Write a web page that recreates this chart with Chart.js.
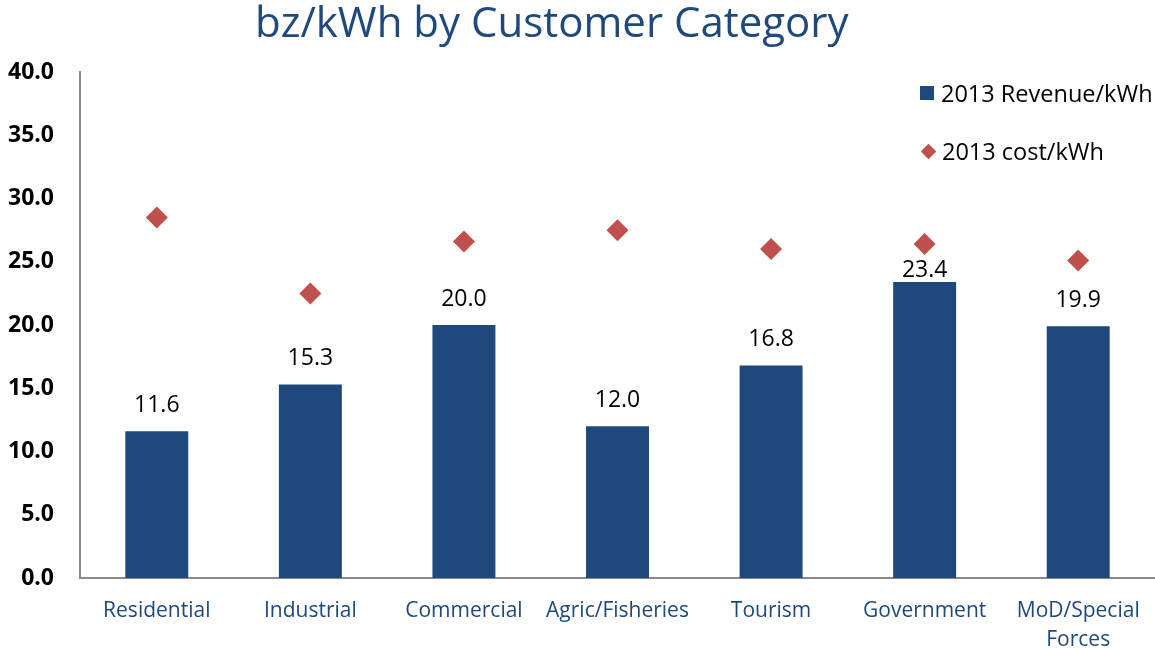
<!DOCTYPE html>
<html>
<head>
<meta charset="utf-8">
<title>bz/kWh by Customer Category</title>
<script src="https://cdn.jsdelivr.net/npm/chart.js@4"></script>
<style>
  html, body { margin: 0; padding: 0; background: #fff; }
  #wrap { position: relative; width: 1155px; height: 650px; font-family: "Open Sans", sans-serif; }
  #title {
    position: absolute; left: 255px; top: -8px; margin: 0;
    font-weight: normal; font-size: 42px; color: #1F497D; white-space: nowrap;
  }
  #legend { position: absolute; left: 920px; top: 78px; font-size: 23.5px; color: #000; }
  .leg-item { display: flex; align-items: center; height: 30px; margin-bottom: 28px; white-space: nowrap; }
  .leg-box { width: 14px; height: 14px; margin-right: 7px; }
  .leg-diamond { width: 11px; height: 11px; margin: 0 8px 0 3px; transform: rotate(45deg); }
</style>
</head>
<body>
<div id="wrap">
  <canvas id="chart" width="1155" height="650"></canvas>
  <h1 id="title">bz/kWh by Customer Category</h1>
  <div id="legend"></div>
</div>
<script>
// --- data ---
const categories = ['Residential', 'Industrial', 'Commercial', 'Agric/Fisheries', 'Tourism', 'Government', ['MoD/Special', 'Forces']];
const revenue = [11.6, 15.3, 20.0, 12.0, 16.8, 23.4, 19.9];
const cost = [28.5, 22.5, 26.6, 27.5, 26.0, 26.4, 25.1];
const yTicks = [0, 5, 10, 15, 20, 25, 30, 35, 40];
const seriesNames = ['2013 Revenue/kWh', '2013 cost/kWh'];

// --- style ---
const BLUE = '#1F497D';
const RED = '#C0504D';
const AXIS = '#898989';
// gap between bar top and label baseline (Government label was nudged down in the original)
const labelGaps = [19, 19, 19, 19, 19, 5, 19];

const barValueLabels = {
  id: 'barValueLabels',
  afterDatasetsDraw(chart) {
    const ctx = chart.ctx;
    const meta = chart.getDatasetMeta(1);
    ctx.save();
    ctx.font = '23px "Open Sans"';
    ctx.fillStyle = '#000';
    ctx.textAlign = 'center';
    ctx.textBaseline = 'alphabetic';
    meta.data.forEach((bar, i) => {
      ctx.fillText(revenue[i].toFixed(1), bar.x, bar.y - labelGaps[i]);
    });
    ctx.restore();
  },
};

const chart = new Chart(document.getElementById('chart'), {
  data: {
    labels: categories,
    datasets: [
      {
        type: 'line',
        label: seriesNames[1],
        data: cost,
        showLine: false,
        pointStyle: 'rectRot',
        pointRadius: 11,
        pointHoverRadius: 11,
        pointBackgroundColor: RED,
        pointBorderColor: RED,
        pointBorderWidth: 0,
        order: 0,
      },
      {
        type: 'bar',
        label: seriesNames[0],
        data: revenue,
        backgroundColor: BLUE,
        barPercentage: 0.41,
        categoryPercentage: 1,
        order: 1,
      },
    ],
  },
  options: {
    responsive: false,
    animation: false,
    layout: { autoPadding: false, padding: { top: 72, left: 0, right: 0, bottom: 0 } },
    plugins: {
      legend: { display: false },
      title: { display: false },
      tooltip: { enabled: false },
    },
    scales: {
      x: {
        grid: { display: false, drawTicks: false },
        border: { color: AXIS, width: 2 },
        ticks: {
          color: BLUE,
          padding: 19,
          font: { family: 'Open Sans', size: 21, lineHeight: 1.35 },
          maxRotation: 0,
          autoSkip: false,
        },
        afterFit(scale) {
          scale.height = 72;
          scale.paddingLeft = 0;
          scale.paddingRight = 0;
        },
      },
      y: {
        min: 0,
        max: 40,
        afterBuildTicks(scale) { scale.ticks = yTicks.map(v => ({ value: v })); },
        grid: { display: false, drawTicks: false },
        border: { color: AXIS, width: 2 },
        ticks: {
          color: '#000',
          padding: 26,
          font: { family: 'Open Sans', size: 23, weight: 'bold' },
          callback: v => v.toFixed(1),
        },
        afterFit(scale) { scale.width = 80; },
      },
    },
  },
  plugins: [barValueLabels],
});

// html legend, bars first then diamonds
function renderLegend() {
  const box = document.getElementById('legend');
  const items = [
    { name: seriesNames[0], cls: 'leg-box', color: BLUE },
    { name: seriesNames[1], cls: 'leg-diamond', color: RED },
  ];
  box.innerHTML = items.map(it => `
    <div class="leg-item"><span class="${it.cls}" style="background:${it.color}"></span>${it.name}</div>
  `).join('');
}

renderLegend();
</script>
</body>
</html>
